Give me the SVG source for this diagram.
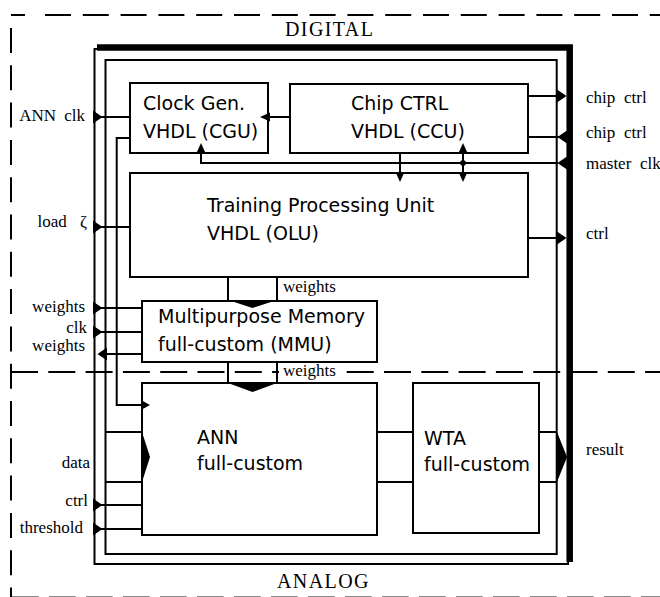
<svg xmlns="http://www.w3.org/2000/svg" xmlns:xlink="http://www.w3.org/1999/xlink" width="660" height="597" viewBox="0 0 660 597">
<style>
.box{fill:#fff;stroke:#000;stroke-width:2}
.frame{fill:none;stroke:#000;stroke-width:2}
.wire{fill:none;stroke:#000;stroke-width:2}
.dash{fill:none;stroke:#000;stroke-width:2}
.ah{fill:#000;stroke:none}
.nt{font-family:"DejaVu Sans","Liberation Sans",sans-serif;font-size:19px;fill:#000}
.lbl{font-family:"Liberation Serif","Times New Roman",serif;font-size:17px;fill:#000}
.big{font-family:"Liberation Serif","Times New Roman",serif;font-size:20px;letter-spacing:1.4px;fill:#000}
</style>
<defs>
<polygon id="pinR" points="0,-6.5 9.5,0 0,6.5"/>
<polygon id="pinL" points="0,-6.5 -9.5,0 0,6.5"/>
<polygon id="ahL" points="0,0 10,-4.5 10,4.5"/>
<polygon id="ahR" points="0,0 -9,-5 -9,5"/>
<polygon id="ahU" points="0,0 -4.5,10 4.5,10"/>
<polygon id="ahD" points="0,0 -4.5,-10 4.5,-10"/>
</defs>

<g id="domains">
<line class="dash" x1="11" y1="15" x2="25" y2="15"/>
<line class="dash" x1="45" y1="15" x2="660" y2="15" stroke-dasharray="26 11.8"/>
<line class="dash" x1="11" y1="28" x2="11" y2="597" stroke-dasharray="25 12.3"/>
<line class="dash" x1="11" y1="372" x2="660" y2="372" stroke-dasharray="27 10.3"/>
<line x1="12" y1="596.5" x2="660" y2="596.5" stroke="#888" stroke-width="1" stroke-dasharray="26.7 10.3"/>
<text class="big" x="285" y="36">DIGITAL</text>
<text class="big" x="277" y="588">ANALOG</text>
</g>

<g id="chip">
<rect class="frame" x="94.5" y="49" width="473.5" height="515"/>
<path d="M97,47.5 H569.7 V562" fill="none" stroke="#000" stroke-width="6.5"/>
<rect class="frame" x="105.5" y="60" width="451.2" height="494"/>
</g>

<g id="clock-gen">
<rect class="box" x="130" y="83" width="138" height="70"/>
<text class="nt" x="143" y="110">Clock Gen.</text>
<text class="nt" x="143" y="138">VHDL (CGU)</text>
</g>
<g id="chip-ctrl">
<rect class="box" x="290" y="84" width="238" height="69"/>
<text class="nt" x="351" y="110">Chip CTRL</text>
<text class="nt" x="351" y="138">VHDL (CCU)</text>
</g>
<g id="training-unit">
<rect class="box" x="130" y="173" width="398" height="104"/>
<text class="nt" x="207" y="212">Training Processing Unit</text>
<text class="nt" x="207" y="240">VHDL (OLU)</text>
</g>
<g id="mmu">
<rect class="box" x="142" y="301" width="235" height="61"/>
<text class="nt" x="158" y="323">Multipurpose Memory</text>
<text class="nt" x="158" y="351">full-custom (MMU)</text>
</g>
<g id="ann">
<rect class="box" x="142" y="383" width="235" height="152"/>
<text class="nt" x="197" y="444">ANN</text>
<text class="nt" x="197" y="470">full-custom</text>
</g>
<g id="wta">
<rect class="box" x="413" y="383" width="126" height="150"/>
<text class="nt" x="424" y="445">WTA</text>
<text class="nt" x="424" y="471">full-custom</text>
</g>

<g id="connectors">
<path class="wire" d="M100,117 H130"/>
<use href="#pinR" class="ah" x="93" y="117"/>
<path class="wire" d="M130,138 H116.7 V405 H142"/>
<polygon class="ah" points="150,405 141,400 141,410"/>
<path class="wire" d="M290,117 H268"/>
<use href="#ahL" class="ah" x="260" y="117"/>
<path class="wire" d="M558,163 H201 V153"/>
<use href="#ahU" class="ah" x="201" y="143"/>
<path class="wire" d="M400,153 V173"/>
<use href="#ahD" class="ah" x="400" y="182"/>
<path class="wire" d="M463,153 V173"/>
<use href="#ahU" class="ah" x="463" y="143"/>
<use href="#ahD" class="ah" x="463" y="182"/>
<polygon class="ah" points="463,159 467,163 463,167 459,163"/>
<path class="wire" d="M528,96 H557"/>
<use href="#pinR" class="ah" x="557" y="96"/>
<path class="wire" d="M567,137 H528"/>
<use href="#pinL" class="ah" x="567" y="137"/>
<use href="#pinL" class="ah" x="567" y="163"/>
<path class="wire" d="M100,227 H130"/>
<use href="#pinR" class="ah" x="93" y="227"/>
<path class="wire" d="M528,238 H557"/>
<use href="#pinR" class="ah" x="557" y="238"/>
<path class="wire" d="M228,277 V301 M277,277 V301"/>
<polygon class="ah" points="228,300 277,300 252.5,308"/>
<path class="wire" d="M100,308 H142"/>
<use href="#pinR" class="ah" x="93" y="308"/>
<path class="wire" d="M100,332 H142"/>
<use href="#pinR" class="ah" x="93" y="332"/>
<path class="wire" d="M105,354 H142"/>
<use href="#pinL" class="ah" x="107" y="354"/>
<path class="wire" d="M228,362 V383 M277,362 V383"/>
<polygon class="ah" points="228,383 277,383 252.5,392"/>
<path class="wire" d="M105.5,432 H142 M105.5,482 H142"/>
<polygon class="ah" points="142,432 150,457 142,482"/>
<path class="wire" d="M100,505 H142"/>
<use href="#pinR" class="ah" x="93" y="505"/>
<path class="wire" d="M100,529 H142"/>
<use href="#pinR" class="ah" x="93" y="529"/>
<path class="wire" d="M377,432 H413 M377,482 H413"/>
<path class="wire" d="M539,432 H557 M539,482 H557"/>
<polygon class="ah" points="557,432 567,457 557,482"/>
</g>

<g id="labels">
<text class="lbl" x="85" y="121" text-anchor="end" word-spacing="4">ANN clk</text>
<text class="lbl" x="87" y="227" text-anchor="end" word-spacing="9">load ζ</text>
<text class="lbl" x="85" y="312" text-anchor="end">weights</text>
<text class="lbl" x="87" y="333" text-anchor="end">clk</text>
<text class="lbl" x="85" y="351" text-anchor="end">weights</text>
<text class="lbl" x="90" y="468" text-anchor="end">data</text>
<text class="lbl" x="88" y="506" text-anchor="end">ctrl</text>
<text class="lbl" x="83" y="533" text-anchor="end">threshold</text>
<text class="lbl" x="586" y="103" word-spacing="4.5">chip ctrl</text>
<text class="lbl" x="586" y="138" word-spacing="4.5">chip ctrl</text>
<text class="lbl" x="586" y="169" word-spacing="4.5">master clk</text>
<text class="lbl" x="586" y="239">ctrl</text>
<text class="lbl" x="586" y="455">result</text>
<text class="lbl" x="283" y="292">weights</text>
<rect x="279" y="363" width="60" height="17" fill="#fff"/>
<text class="lbl" x="283" y="376">weights</text>
</g>
</svg>
